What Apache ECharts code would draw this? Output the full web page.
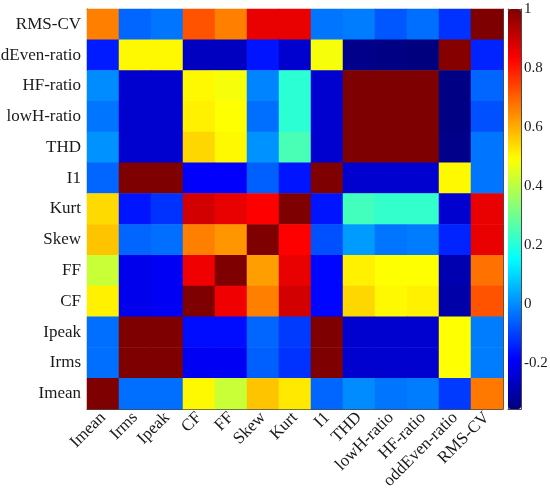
<!DOCTYPE html>
<html>
<head>
<meta charset="utf-8">
<script src="https://cdn.jsdelivr.net/npm/echarts@6/dist/echarts.min.js"></script>
<style>
    html, body { margin: 0; padding: 0; background: #fff; }
    #chart { width: 550px; height: 493px; }
</style>
</head>
<body>
<div id="chart"></div>
<script>
// 特征名
var labels = ['Imean', 'Irms', 'Ipeak', 'CF', 'FF', 'Skew', 'Kurt', 'I1', 'THD',
    'lowH-ratio', 'HF-ratio', 'oddEven-ratio', 'RMS-CV'];

// 相关系数, 每行一个特征 (从图的上方往下)
var rowRmsCv    = [0.66, -0.05, -0.03, 0.72, 0.66, 0.86, 0.86, -0.03, -0.02, -0.07, -0.04, -0.12, 1];
var rowOddEven  = [-0.15, 0.50, 0.50, -0.27, -0.27, -0.16, -0.25, 0.48, -0.34, -0.35, -0.356, 0.99, -0.14];
var rowHf       = [0.00, -0.25, -0.25, 0.50, 0.48, -0.01, 0.21, -0.25, 1, 1, 1, -0.35, -0.05];
var rowLowH     = [-0.03, -0.25, -0.25, 0.51, 0.49, -0.04, 0.21, -0.25, 1, 1, 1, -0.35, -0.08];
var rowThd      = [0.01, -0.25, -0.25, 0.545, 0.50, 0.01, 0.25, -0.25, 1, 1, 1, -0.34, -0.03];
var rowI1       = [-0.05, 1, 1, -0.19, -0.19, -0.06, -0.16, 1, -0.25, -0.25, -0.25, 0.50, -0.03];
var rowKurt     = [0.54, -0.16, -0.12, 0.89, 0.86, 0.83, 1, -0.16, 0.24, 0.22, 0.22, -0.25, 0.86];
var rowSkew     = [0.57, -0.05, -0.04, 0.66, 0.63, 1, 0.83, -0.08, 0.02, -0.03, -0.02, -0.14, 0.86];
var rowFf       = [0.42, -0.21, -0.20, 0.85, 1, 0.62, 0.86, -0.18, 0.51, 0.49, 0.49, -0.29, 0.68];
var rowCf       = [0.51, -0.21, -0.20, 1, 0.85, 0.66, 0.89, -0.18, 0.545, 0.50, 0.51, -0.30, 0.72];
var rowIpeak    = [-0.04, 1, 1, -0.17, -0.17, -0.05, -0.11, 1, -0.25, -0.25, -0.25, 0.49, -0.02];
var rowIrms     = [-0.04, 1, 1, -0.20, -0.20, -0.06, -0.12, 1, -0.25, -0.25, -0.25, 0.49, -0.02];
var rowImean    = [1, -0.04, -0.04, 0.50, 0.42, 0.57, 0.52, -0.05, 0.00, -0.03, -0.02, -0.11, 0.67];

var rowsTopDown = [rowRmsCv, rowOddEven, rowHf, rowLowH, rowThd, rowI1, rowKurt,
    rowSkew, rowFf, rowCf, rowIpeak, rowIrms, rowImean];

// 色标
var cbMin = -0.356;
var cbMax = 1;
var cbTicks = [-0.2, 0, 0.2, 0.4, 0.6, 0.8, 1];
var jet = ['#00007F', '#0000FF', '#007FFF', '#00FFFF', '#7FFF7F',
    '#FFFF00', '#FF7F00', '#FF0000', '#7F0000'];

var font = '"Liberation Serif", "Times New Roman", serif';
var fontSize = 17;
var axisColor = '#4a4a4a';

function heatData() {
    var data = [];
    var n = rowsTopDown.length;
    for (var r = 0; r < n; r++) {
        for (var c = 0; c < rowsTopDown[r].length; c++) {
            data.push([c, n - 1 - r, rowsTopDown[r][c]]);
        }
    }
    return data;
}

function catAxis(type, pos, showLabel) {
    var ax = {
        type: 'category',
        gridIndex: 0,
        position: pos,
        data: labels,
        boundaryGap: true,
        axisLine: { show: true, lineStyle: { color: axisColor, width: 1 } },
        axisTick: { show: true, inside: true, alignWithLabel: true, length: 4,
            lineStyle: { color: axisColor } },
        splitLine: { show: false },
        axisLabel: { show: showLabel, color: '#1a1a1a', fontFamily: font, fontSize: fontSize,
            hideOverlap: false }
    };
    if (type === 'x' && showLabel) {
        ax.axisLabel.rotate = 45;
        ax.axisLabel.margin = 6;
        ax.axisLabel.interval = 0;
    }
    if (type === 'y' && showLabel) {
        ax.axisLabel.margin = 6;
        ax.axisLabel.interval = 0;
    }
    return ax;
}

var myChart = echarts.init(document.getElementById('chart'), null, { renderer: 'canvas' });
var option = {
    animation: false,
    backgroundColor: '#ffffff',
    grid: [
        { left: 87, top: 9, width: 416, height: 400, containLabel: false, outerBoundsMode: 'none' },
        { left: 508, top: 9, width: 13, height: 400, containLabel: false, outerBoundsMode: 'none' }
    ],
    xAxis: [
        catAxis('x', 'bottom', true),
        catAxis('x', 'top', false),
        {
            type: 'value', gridIndex: 1, min: 0, max: 1,
            axisLine: { show: true, onZero: false, lineStyle: { color: axisColor } },
            axisTick: { show: false }, axisLabel: { show: false }, splitLine: { show: false }
        },
        {
            type: 'value', gridIndex: 1, position: 'top', min: 0, max: 1,
            axisLine: { show: true, onZero: false, lineStyle: { color: axisColor } },
            axisTick: { show: false }, axisLabel: { show: false }, splitLine: { show: false }
        }
    ],
    yAxis: [
        catAxis('y', 'left', true),
        catAxis('y', 'right', false),
        {
            type: 'value', gridIndex: 1, position: 'right', min: cbMin, max: cbMax,
            axisLine: { show: true, onZero: false, lineStyle: { color: axisColor } },
            axisTick: { show: true, inside: true, length: 3, customValues: cbTicks,
                lineStyle: { color: axisColor } },
            axisLabel: {
                show: true, customValues: cbTicks, margin: 3,
                color: '#1a1a1a', fontFamily: font, fontSize: 15,
                formatter: function (v) {
                    return String(Math.round(v * 10) / 10);
                }
            },
            splitLine: { show: false }
        },
        {
            type: 'value', gridIndex: 1, position: 'left', min: cbMin, max: cbMax,
            axisLine: { show: true, onZero: false, lineStyle: { color: axisColor } },
            axisTick: { show: false }, axisLabel: { show: false }, splitLine: { show: false }
        }
    ],
    visualMap: {
        type: 'continuous',
        seriesIndex: 0,
        min: cbMin,
        max: cbMax,
        calculable: false,
        realtime: false,
        hoverLink: false,
        left: 508,
        top: 9,
        padding: 0,
        itemWidth: 13,
        itemHeight: 400,
        text: ['', ''],
        textGap: 0,
        inRange: { color: jet }
    },
    series: [
        {
            type: 'heatmap',
            xAxisIndex: 0,
            yAxisIndex: 0,
            data: heatData(),
            itemStyle: { borderWidth: 0 },
            emphasis: { disabled: true },
            z: 1
        }
    ]
};
myChart.setOption(option);
</script>
</body>
</html>
